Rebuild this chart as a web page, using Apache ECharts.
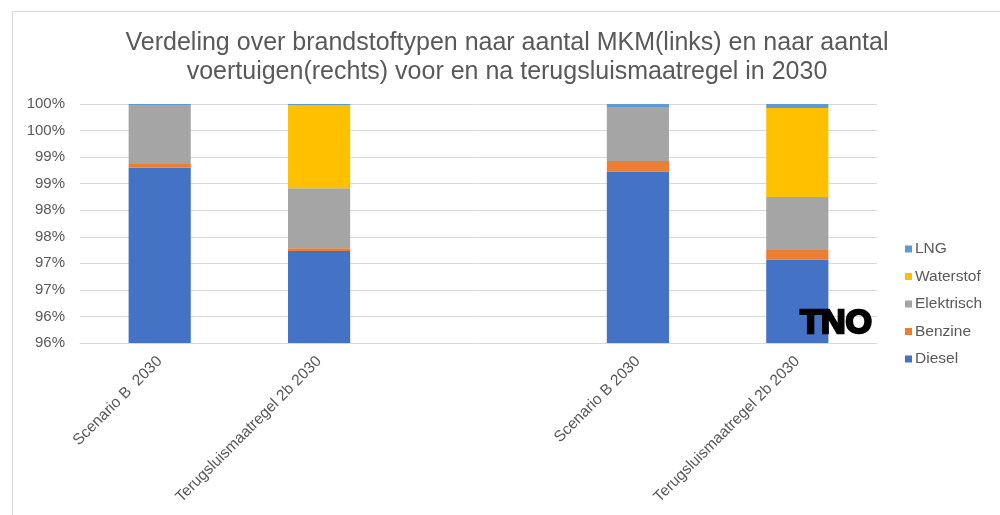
<!DOCTYPE html>
<html>
<head>
<meta charset="utf-8">
<script src="https://cdn.jsdelivr.net/npm/echarts@6/dist/echarts.min.js"></script>
<style>
html,body{margin:0;padding:0;background:#fff;}
#chart{width:1000px;height:515px;}
</style>
</head>
<body>
<div id="chart"></div>
<script>
var categories = ['Scenario B  2030', 'Terugsluismaatregel 2b 2030', '', 'Scenario B 2030', 'Terugsluismaatregel 2b 2030'];
var diesel     = [98.80, 97.23, null, 98.73, 97.07];
var benzine    = [0.07, 0.055, null, 0.195, 0.18];
var elektrisch = [1.11, 1.13, null, 1.005, 1.00];
var waterstof  = [0, 1.565, null, 0, 1.675];
var lng        = [0.02, 0.02, null, 0.07, 0.075];
var yTickLabels = ['96%', '96%', '97%', '97%', '98%', '98%', '99%', '99%', '100%', '100%'];
var legendOrder = ['LNG', 'Waterstof', 'Elektrisch', 'Benzine', 'Diesel'];

var gray = '#595959';
var font = 'Liberation Sans';
function bar(name, data, color) {
  return { name: name, type: 'bar', stack: 'total', data: data, barWidth: '39%',
    itemStyle: { color: color }, clip: true };
}
var chart = echarts.init(document.getElementById('chart'));
chart.setOption({
  animation: false,
  textStyle: { fontFamily: font },
  title: {
    text: 'Verdeling over brandstoftypen naar aantal MKM(links) en naar aantal\nvoertuigen(rechts) voor en na terugsluismaatregel in 2030',
    left: 502, top: 24, textAlign: 'center',
    textStyle: { fontFamily: font, fontSize: 25, fontWeight: 'normal', color: gray, lineHeight: 29 }
  },
  grid: { left: 80, right: 123, top: 104, bottom: 172, containLabel: false },
  legend: {
    orient: 'vertical', left: 900, top: 236,
    data: legendOrder, icon: 'rect', itemWidth: 7, itemHeight: 7, itemGap: 11.5,
    textStyle: { fontFamily: font, fontSize: 15.5, color: gray, padding: [0, 0, 0, -2] }
  },
  xAxis: {
    type: 'category', data: categories,
    axisLine: { lineStyle: { color: '#d9d9d9', width: 1 } },
    axisTick: { show: false },
    axisLabel: { rotate: 45, interval: 0, margin: 16, fontSize: 15.5, color: gray, fontFamily: font }
  },
  yAxis: {
    type: 'value', min: 95.5, max: 100, interval: 0.5,
    axisLine: { show: false }, axisTick: { show: false },
    splitLine: { lineStyle: { color: '#d9d9d9', width: 1 } },
    axisLabel: { fontSize: 15, color: gray, fontFamily: font, margin: 15,
      formatter: function (v) { var i = Math.round((v - 95.5) / 0.5); return yTickLabels[i]; } }
  },
  graphic: [
    { type: 'polyline', silent: true, shape: { points: [[12.5, 515], [12.5, 11.5], [1000, 11.5]] },
      style: { stroke: '#d9d9d9', lineWidth: 1, fill: null } },
    { type: 'text', left: 799, top: 305, z: 100,
      style: { text: 'TNO', fontFamily: font, fontSize: 34, fontWeight: 900, fill: '#000',
        stroke: '#000', lineWidth: 2.5 } }
  ],
  series: [
    bar('Diesel', diesel, '#4472C4'),
    bar('Benzine', benzine, '#ED7D31'),
    bar('Elektrisch', elektrisch, '#A5A5A5'),
    bar('Waterstof', waterstof, '#FFC000'),
    bar('LNG', lng, '#5B9BD5')
  ]
});
</script>
</body>
</html>
